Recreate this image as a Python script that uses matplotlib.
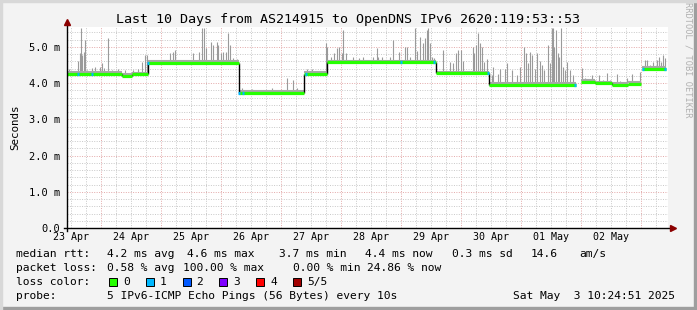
import numpy as np
import matplotlib
matplotlib.use("Agg")
import matplotlib.pyplot as plt
from matplotlib.patches import Rectangle

# hours since start of graph (Apr 23 10:24:51), 2.5 px per hour
seg_start = [0.0, 22.0, 26.0, 32.4, 68.8, 94.8, 104.0, 147.6, 168.8, 205.6, 211.2, 218.0, 224.4, 230.0]
seg_end = [22.0, 26.0, 32.4, 68.8, 94.8, 104.0, 147.6, 168.8, 203.6, 211.2, 218.0, 224.4, 229.6, 239.6]
seg_level = [4.25, 4.21, 4.24, 4.56, 3.73, 4.25, 4.57, 4.27, 3.96, 4.03, 3.99, 3.95, 3.97, 4.40]

spike_h = [0.8, 4.4, 5.2, 5.6, 6.0, 6.8, 7.2, 8.0, 10.0, 11.2, 13.2, 14.0, 14.8, 16.4, 18.0,
           20.4, 23.2, 26.4, 28.4, 30.0, 31.2, 32.0, 41.2, 42.4, 43.2, 50.4, 52.8, 54.0, 54.8,
           55.6, 57.6, 58.4, 60.0, 60.4, 61.6, 62.4, 63.6, 64.4, 65.2, 66.4, 68.0, 70.0, 74.0,
           82.0, 88.0, 90.4, 92.0, 96.0, 98.0, 99.6, 101.2, 103.6, 104.0, 105.6, 106.8, 108.0,
           108.8, 110.0, 110.4, 111.6, 114.4, 116.8, 118.4, 122.4, 124.0, 124.4, 126.0, 129.2,
           130.4, 132.8, 135.2, 136.0, 137.2, 139.2, 140.0, 141.2, 142.4, 143.2, 144.0, 144.4,
           145.2, 146.0, 146.8, 150.4, 153.2, 154.4, 155.6, 156.4, 157.6, 158.4, 162.4, 162.8,
           163.6, 164.4, 165.2, 166.0, 166.8, 168.0, 170.0, 170.4, 172.4, 173.2, 175.2, 176.0,
           178.0, 180.0, 181.2, 182.8, 183.6, 184.4, 185.2, 186.0, 187.2, 188.0, 189.2, 190.0,
           190.8, 192.4, 193.2, 194.0, 194.4, 194.8, 195.6, 196.4, 196.8, 197.6, 198.4, 199.2,
           200.0, 201.2, 202.4, 206.0, 207.2, 208.4, 210.0, 211.2, 212.8, 214.4, 216.0, 217.2,
           220.0, 221.2, 224.0, 226.0, 227.2, 229.2, 231.2, 232.0, 233.2, 234.4, 236.0, 236.8,
           237.6, 238.4, 239.2]
spike_top = [4.40, 4.60, 4.83, 5.52, 4.78, 4.86, 5.19, 4.36, 4.42, 4.45, 4.45, 4.55, 4.42, 5.25, 4.36,
             4.40, 4.36, 4.36, 4.40, 4.58, 4.78, 4.78, 4.83, 4.86, 4.92, 4.83, 4.86, 5.52, 5.52,
             4.97, 5.14, 5.05, 5.14, 5.05, 4.83, 4.86, 4.86, 5.38, 5.05, 4.70, 4.68, 3.87, 3.85,
             3.87, 4.14, 4.09, 3.87, 4.39, 4.39, 4.33, 4.33, 5.11, 5.00, 4.72, 4.83, 4.97,
             5.00, 4.83, 5.47, 4.83, 4.72, 4.70, 4.72, 4.72, 4.97, 4.72, 4.72, 4.72,
             5.19, 4.86, 5.00, 5.00, 4.72, 5.52, 4.90, 5.28, 5.11, 5.25, 5.47, 5.52,
             5.11, 4.72, 4.70, 4.92, 4.58, 4.55, 4.83, 4.92, 4.92, 4.62, 5.00, 4.83,
             5.05, 5.38, 5.11, 5.00, 4.58, 4.68, 4.22, 4.45, 4.25, 4.40, 4.40, 4.56,
             4.36, 4.22, 4.45, 5.00, 4.83, 4.55, 4.86, 4.78, 4.40, 4.83, 4.62, 4.50,
             4.36, 5.05, 4.55, 5.52, 5.52, 5.00, 5.47, 4.83, 4.72, 5.52, 4.45, 4.36,
             4.58, 4.36, 4.22, 4.42, 4.14, 4.09, 4.22, 4.09, 4.22, 4.09, 4.28, 4.09,
             4.25, 4.05, 4.14, 4.25, 4.05, 4.30, 4.64, 4.64, 4.50, 4.58, 4.64, 4.72,
             4.58, 4.78, 4.70]

# hours where a ping was lost (loss color 1)
loss1_h = [4.4, 10.0, 32.4, 68.8, 70.4, 95.6, 133.6, 146.8, 168.4, 203.2, 230.4, 239.2]

day_labels = ["23 Apr", "24 Apr", "25 Apr", "26 Apr", "27 Apr", "28 Apr", "29 Apr",
              "30 Apr", "01 May", "02 May"]
y_ticks = [0, 1, 2, 3, 4, 5]
y_labels = ["0.0", "1.0 m", "2.0 m", "3.0 m", "4.0 m", "5.0 m"]

seg_start = np.array(seg_start)
seg_level = np.array(seg_level)


def level_at(h):
    idx = np.searchsorted(seg_start, h, side="right") - 1
    return seg_level[idx]


W, H = 697, 310
MONO = "DejaVu Sans Mono"
fig = plt.figure(figsize=(W / 100, H / 100), dpi=100, facecolor="#f3f3f3")

# frame around the canvas
fig.patches.append(Rectangle((0, 0), 1, 3 / H, transform=fig.transFigure, color="#9e9e9e", zorder=0))
fig.patches.append(Rectangle((1 - 3 / W, 0), 3 / W, 1, transform=fig.transFigure, color="#9e9e9e", zorder=0))
fig.patches.append(Rectangle((0, 1 - 2 / H), 1, 2 / H, transform=fig.transFigure, color="#d8d8d8", zorder=0))
fig.patches.append(Rectangle((0, 0), 2 / W, 1, transform=fig.transFigure, color="#d8d8d8", zorder=0))

ax = fig.add_axes([67 / W, 82 / H, 601 / W, 201 / H])
ax.set_facecolor("white")
ax.set_xlim(0, 240.4)
ax.set_ylim(0, 5.55)
for s in ax.spines.values():
    s.set_visible(False)

# grid
midnight = 13.586  # Apr 24 00:00 in hours after start
for h in np.arange(midnight - 12, 240, 6):
    major = abs(((h - midnight) / 24) - round((h - midnight) / 24)) < 1e-6
    ax.axvline(h, color="#e3a8a8" if major else "#c8c8c8", lw=0.7,
               linestyle=(0, (1, 1.5)), zorder=1)
for v in np.arange(0.2, 5.55, 0.2):
    major = abs(v - round(v)) < 1e-6
    ax.axhline(v, color="#e3a8a8" if major else "#c8c8c8", lw=0.7,
               linestyle=(0, (1, 1.5)), zorder=1)

# smoke spikes
spike_base = [level_at(h) for h in spike_h]
ax.vlines(spike_h, spike_base, spike_top, color="#9a9a9a", lw=0.8, zorder=2)
for s0, s1, lv in zip(seg_start, seg_end, seg_level):
    ax.hlines(lv + 0.05, s0, s1, color="#a8a8a8", lw=1.5, zorder=2)

# median line
for i in range(1, len(seg_start)):
    if abs(seg_start[i] - seg_end[i - 1]) < 1e-6:
        ax.vlines(seg_start[i], min(seg_level[i], seg_level[i - 1]),
                  max(seg_level[i], seg_level[i - 1]), color="black", lw=1.0, zorder=3)
ax.hlines(seg_level, seg_start, seg_end, color="#26ff00", lw=2.3, zorder=4)
for h in loss1_h:
    ax.hlines(level_at(h), h - 0.4, h + 0.4, color="#00b8ff", lw=2.3, zorder=5)

# axes with arrows
ax.plot([0, 0], [-0.08, 5.62], color="black", lw=1.0, clip_on=False, zorder=6)
ax.plot([-1.2, 241.5], [0, 0], color="black", lw=1.0, clip_on=False, zorder=6)
ax.plot([0], [5.68], marker="^", color="#8b0000", markersize=5, clip_on=False, zorder=7)
ax.plot([242.3], [0], marker=">", color="#8b0000", markersize=5, clip_on=False, zorder=7)

# ticks
ax.set_yticks(y_ticks)
ax.set_yticklabels(y_labels, fontfamily=MONO, fontsize=7.5)
ax.tick_params(axis="y", length=0, pad=5)
ax.set_xticks(midnight - 12 + 24 * np.arange(len(day_labels)))
ax.set_xticklabels(day_labels, fontfamily=MONO, fontsize=7.2)
ax.tick_params(axis="x", length=0, pad=3)

ax.set_ylabel("Seconds", fontfamily=MONO, fontsize=7.8, labelpad=6)

fig.text(348 / W, 1 - 19 / H, "Last 10 Days from AS214915 to OpenDNS IPv6 2620:119:53::53",
         ha="center", va="center", fontfamily=MONO, fontsize=9.6)
fig.text(688 / W, 1 - 60 / H, "RRDTOOL / TOBI OETIKER", rotation=-90, ha="center", va="center",
         fontfamily=MONO, fontsize=6.2, color="#b0b0b0")


def txt(x, y, s):
    fig.text(x / W, 1 - y / H, s, ha="left", va="center", fontfamily=MONO, fontsize=8.1)


txt(16, 254, "median rtt:")
txt(107, 254, "4.2 ms avg")
txt(187, 254, "4.6 ms max")
txt(279, 254, "3.7 ms min")
txt(365, 254, "4.4 ms now")
txt(452, 254, "0.3 ms sd")
txt(531, 254, "14.6")
txt(579, 254, "am/s")

txt(16, 268, "packet loss:")
txt(107, 268, "0.58 % avg")
txt(183, 268, "100.00 % max")
txt(293, 268, "0.00 % min")
txt(367, 268, "24.86 % now")

txt(16, 282, "loss color:")
loss_colors = ["#26ff00", "#00b8ff", "#0059ff", "#7e00ff", "#ff0000", "#a10000"]
loss_names = ["0", "1", "2", "3", "4", "5/5"]
for i, (c, n) in enumerate(zip(loss_colors, loss_names)):
    bx = 109 + i * 36.8
    fig.patches.append(Rectangle((bx / W, 1 - 286 / H), 8 / W, 8 / H, transform=fig.transFigure,
                                 facecolor=c, edgecolor="black", lw=0.7))
    txt(bx + 14, 282, n)

txt(16, 296, "probe:")
txt(107, 296, "5 IPv6-ICMP Echo Pings (56 Bytes) every 10s")
txt(513, 296, "Sat May  3 10:24:51 2025")

fig.savefig("out.png", dpi=100, facecolor=fig.get_facecolor())
